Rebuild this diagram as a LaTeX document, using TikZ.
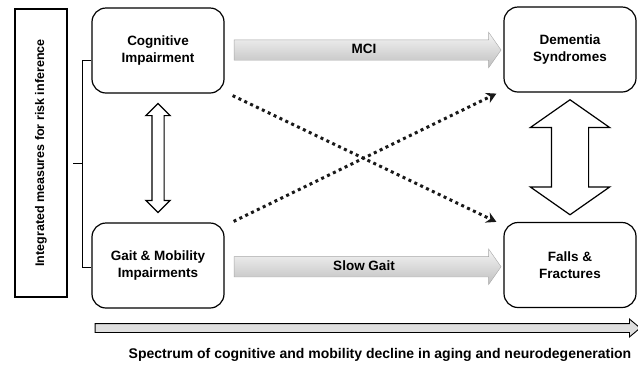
\documentclass[tikz,border=0pt]{standalone}
\usepackage{fontspec}
\setmainfont{Liberation Sans}
\usetikzlibrary{shapes,arrows,arrows.meta,calc}

\tikzset{
  box/.style={draw, line width=1.2pt, rounded corners=14pt, minimum width=132pt,
    minimum height=85pt, align=center, font=\fontsize{13.5}{17}\selectfont\bfseries},
  grayarrow/.style={single arrow, draw=gray!70, line width=0.4pt, top color=gray!8,
    bottom color=gray!50, minimum height=267pt, minimum width=35pt, inner xsep=0pt,
    inner ysep=3.5pt, text height=10pt, text depth=3pt,
    single arrow head extend=7.5pt, single arrow head indent=0pt,
    single arrow tip angle=110, font=\fontsize{13.5}{16}\selectfont\bfseries},
  openarrow/.style={double arrow, draw, line width=1.2pt, fill=white, inner xsep=0pt},
  dotarrow/.style={line width=3pt, gray!20!black, dash pattern=on 3pt off 3.5pt,
    -{Stealth[length=10pt,width=11pt]}}
}

\begin{document}
\begin{tikzpicture}[x=1pt,y=-1pt]
  \useasboundingbox (0,0) rectangle (638,365);

  \node[draw, line width=1.2pt, rotate=90, minimum width=288pt, minimum height=52pt,
    font=\fontsize{12.5}{15}\selectfont\bfseries] (risk) at (41,153)
    {Integrated measures for risk inference};

  \node[box] (cog) at (158,50.5) {Cognitive\\Impairment};
  \node[box] (dem) at (570,49.5) {Dementia\\Syndromes};
  \node[box] (gait) at (158,265.5) {Gait \& Mobility\\Impairments};
  \node[box] (fall) at (570,265) {Falls \&\\Fractures};

  % horizontal progression arrows
  \node[grayarrow] (mci) at ($(cog.east)!0.5!(dem.west)$) {MCI};
  \node[grayarrow] (slow) at ($(gait.east)!0.5!(fall.west)+(0,1.5)$) {Slow Gait};

  % two-way links
  \node[openarrow, rotate=90, minimum height=109pt, inner ysep=5.5pt,
    double arrow head extend=6pt, double arrow tip angle=90]
    (cglink) at ($(cog.south)!0.5!(gait.north)$) {};
  \node[openarrow, rotate=90, minimum height=115pt, inner ysep=18pt,
    double arrow head extend=21pt, double arrow tip angle=110]
    (dflink) at ($(dem.south)!0.5!(fall.north)$) {};

  % cross links
  \draw[dotarrow] ([shift={(8,2)}]cog.south east) -- ([shift={(-7,0)}]fall.north west);
  \draw[dotarrow] ([shift={(9,-1)}]gait.north east) -- ([shift={(-7,1)}]dem.south west);

  % bracket
  \draw[line width=1pt] ([yshift=-9.5pt]cog.west) -- ++(-9,0) |- ([yshift=-1.5pt]gait.west);
  \draw[line width=1pt] (73,163) -- (83,163);

  % spectrum
  \node[single arrow, draw, line width=0.9pt, fill=gray!25, inner xsep=0pt,
    inner ysep=4pt, minimum height=545pt, single arrow head extend=4.5pt,
    single arrow head indent=0pt, single arrow tip angle=80]
    (spec) at (365,328) {};
  \node[font=\fontsize{14}{16}\selectfont\bfseries] (spectxt) at (380,355)
    {Spectrum of cognitive and mobility decline in aging and neurodegeneration};

\end{tikzpicture}
\end{document}
